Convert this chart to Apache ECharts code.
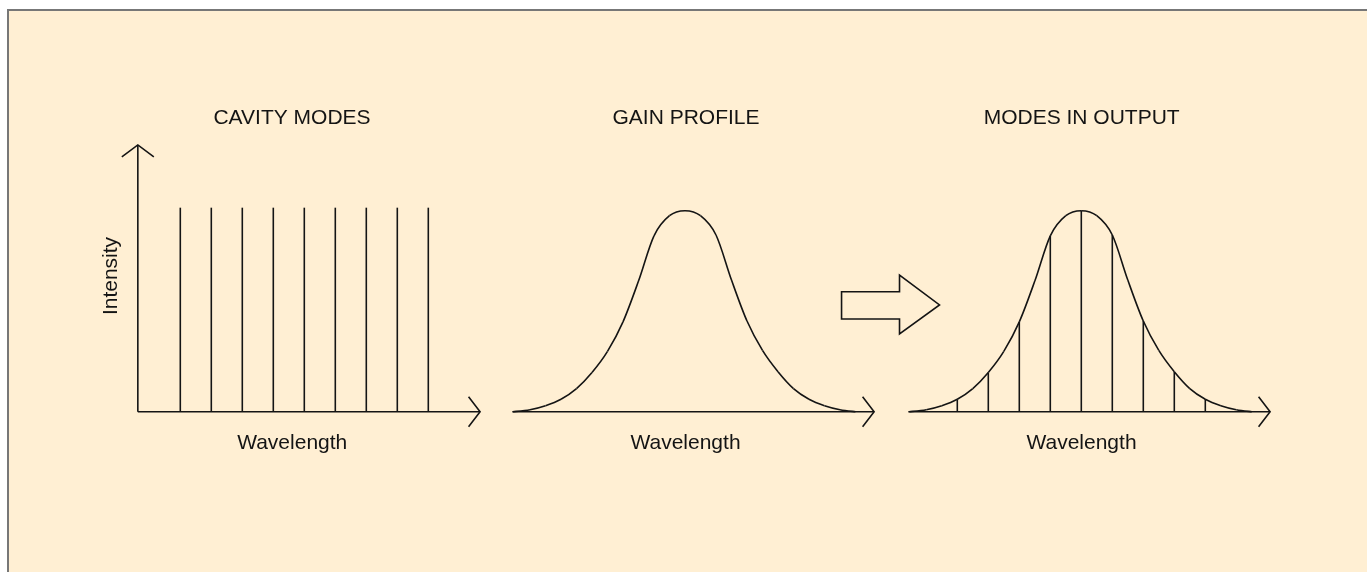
<!DOCTYPE html>
<html><head><meta charset="utf-8">
<script src="https://cdn.jsdelivr.net/npm/echarts@6/dist/echarts.min.js"></script>
<style>html,body{margin:0;padding:0;background:#fff}#c{width:1367px;height:572px}</style>
</head><body><div id="c"></div>
<script>
// ---- data (x in units of mode spacing, y = relative intensity) ----
const panelTitles = ['CAVITY MODES', 'GAIN PROFILE', 'MODES IN OUTPUT'];
const xAxisName = 'Wavelength';
const yAxisName = 'Intensity';
const modeOffsets = [-4, -3, -2, -1, 0, 1, 2, 3, 4];
const cavityHeights = [1.015, 1.015, 1.015, 1.015, 1.015, 1.015, 1.015, 1.015, 1.015];
const gainX = [-5.55, -5, -4.5, -4, -3.5, -3, -2.5, -2, -1.5, -1, -0.5, 0, 0.5, 1, 1.5, 2, 2.5, 3, 3.5, 4, 4.5, 5, 5.5];
const gainY = [0, 0.01, 0.03, 0.062, 0.115, 0.195, 0.3, 0.447, 0.65, 0.875, 0.975, 1, 0.975, 0.879, 0.655, 0.451, 0.305, 0.199, 0.115, 0.062, 0.03, 0.01, 0];
const outputHeights = [0.062, 0.195, 0.447, 0.875, 1, 0.879, 0.451, 0.199, 0.062];
// axis extents per panel [start, end] and vertical axis top (panel 1)
const axisSpans = [[-5.37, 5.67], [-5.57, 6.1], [-5.58, 6.09]];
const yAxisTop = 1.327;
// hollow arrow outline (panel 2 coordinates)
const arrowPts = [[5.05, 0.597], [6.92, 0.597], [6.92, 0.68], [8.21, 0.531], [6.92, 0.387], [6.92, 0.461], [5.05, 0.461]];

// ---- layout ----
const centers = [304.3, 685, 1081.3];
const PX = 31, PY = 201, BASE = 411.7;
const XMIN = -6, XMAX = 6.5, YMAX = 1.4;
const INK = '#141414';
const LW = 1.6;
const FONT = '"Liberation Sans", Arial, sans-serif';
const BG = '#FFEFD3';

const chart = echarts.init(document.getElementById('c'));

const grids = centers.map(c => ({
  left: c + XMIN * PX, width: (XMAX - XMIN) * PX,
  top: BASE - YMAX * PY, height: YMAX * PY
}));
const xAxes = centers.map((c, i) => ({ gridIndex: i, type: 'value', min: XMIN, max: XMAX, show: false }));
const yAxes = centers.map((c, i) => ({ gridIndex: i, type: 'value', min: 0, max: YMAX, show: false }));

const lineStyle = { stroke: INK, lineWidth: LW, fill: null };

function axesSeries(i) {
  return {
    type: 'custom', xAxisIndex: i, yAxisIndex: i, clip: false, silent: true,
    data: [[0, 0]],
    renderItem: function (params, api) {
      const span = axisSpans[i];
      const a = api.coord([span[0], 0]);
      const b = api.coord([span[1], 0]);
      const children = [
        { type: 'line', shape: { x1: a[0], y1: a[1], x2: b[0], y2: b[1] }, style: lineStyle },
        { type: 'polyline', shape: { points: [[b[0] - 11.5, b[1] - 15], [b[0], b[1]], [b[0] - 11.5, b[1] + 15]] }, style: lineStyle }
      ];
      if (i === 0) {
        const t = api.coord([span[0], yAxisTop]);
        children.push({ type: 'line', shape: { x1: a[0], y1: a[1], x2: t[0], y2: t[1] }, style: lineStyle });
        children.push({ type: 'polyline', shape: { points: [[t[0] - 16, t[1] + 12], [t[0], t[1]], [t[0] + 16, t[1] + 12]] }, style: lineStyle });
      }
      return { type: 'group', children: children };
    }
  };
}

function stickSeries(i, heights) {
  return {
    type: 'custom', xAxisIndex: i, yAxisIndex: i, clip: false, silent: true,
    data: modeOffsets.map((x, k) => [x, heights[k]]),
    renderItem: function (params, api) {
      const p0 = api.coord([api.value(0), 0]);
      const p1 = api.coord([api.value(0), api.value(1)]);
      return { type: 'line', shape: { x1: p0[0], y1: p0[1], x2: p1[0], y2: p1[1] }, style: lineStyle };
    }
  };
}

// smooth curve through the read points (Catmull-Rom -> cubic Bezier), positioned by the axes
function gainSeries(i) {
  return {
    type: 'custom', xAxisIndex: i, yAxisIndex: i, clip: false, silent: true,
    data: [[0, 0]],
    renderItem: function (params, api) {
      const P = gainX.map((x, k) => api.coord([x, gainY[k]]));
      const n = P.length;
      const segs = [];
      for (let k = 0; k < n - 1; k++) {
        const p0 = P[Math.max(0, k - 1)], p1 = P[k], p2 = P[k + 1], p3 = P[Math.min(n - 1, k + 2)];
        segs.push({
          type: 'bezierCurve',
          shape: {
            x1: p1[0], y1: p1[1], x2: p2[0], y2: p2[1],
            cpx1: p1[0] + (p2[0] - p0[0]) / 6, cpy1: p1[1] + (p2[1] - p0[1]) / 6,
            cpx2: p2[0] - (p3[0] - p1[0]) / 6, cpy2: p2[1] - (p3[1] - p1[1]) / 6
          },
          style: lineStyle
        });
      }
      return { type: 'group', children: segs };
    }
  };
}

const arrowSeries = {
  type: 'custom', xAxisIndex: 1, yAxisIndex: 1, clip: false, silent: true,
  data: [[0, 0]],
  renderItem: function (params, api) {
    return { type: 'polygon', shape: { points: arrowPts.map(p => api.coord(p)) }, style: { stroke: INK, lineWidth: LW, fill: 'none' } };
  }
};

const textStyle = (t, x, y, rot) => ({
  type: 'text', x: x, y: y, rotation: rot || 0, silent: true, z: 10,
  style: { text: t, fill: INK, font: '21px ' + FONT, textAlign: 'center', textVerticalAlign: 'middle' }
});

const titleX = [292, 686, 1081.7];
const nameX = [292.2, 685.5, 1081.5];

chart.setOption({
  animation: false,
  backgroundColor: '#ffffff',
  grid: grids,
  xAxis: xAxes,
  yAxis: yAxes,
  graphic: [
    { type: 'rect', z: -10, silent: true, shape: { x: 8, y: 10, width: 1400, height: 600 }, style: { fill: BG, stroke: '#777777', lineWidth: 2 } },
    ...panelTitles.map((t, i) => textStyle(t, titleX[i], 118)),
    ...nameX.map(x => textStyle(xAxisName, x, 443.5)),
    textStyle(yAxisName, 111.3, 276, Math.PI / 2)
  ],
  series: [
    axesSeries(0), axesSeries(1), axesSeries(2),
    stickSeries(0, cavityHeights),
    gainSeries(1), gainSeries(2),
    stickSeries(2, outputHeights),
    arrowSeries
  ]
});
</script></body></html>
